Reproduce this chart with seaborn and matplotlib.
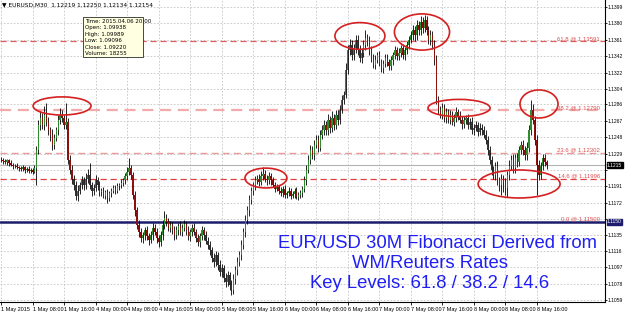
import numpy as np
import pandas as pd
import seaborn as sns
import matplotlib
matplotlib.use("Agg")
import matplotlib.pyplot as plt
from matplotlib.patches import Ellipse, Rectangle
import matplotlib.transforms as mtransforms

# ---------------- data ----------------
first_open = 1.1221
close = [
    1.1222, 1.1220, 1.1219, 1.1221, 1.1218, 1.1216, 1.1214, 1.1215, 1.1213, 1.1212, 1.1211, 1.1213, 1.1210, 1.1211, 1.1209, 1.1210, 1.1208, 1.1212,
    1.1233, 1.1262, 1.1270, 1.1262, 1.1274, 1.1266, 1.1256,
    1.1251, 1.1239, 1.1247, 1.1256, 1.1268, 1.1274, 1.1270, 1.1262,
    1.1266, 1.1222,
    1.1210, 1.1200, 1.1192, 1.1180, 1.1186, 1.1192,
    1.1198, 1.1192, 1.1200, 1.1204, 1.1192, 1.1186, 1.1189, 1.1198, 1.1192, 1.1184,
    1.1186, 1.1180, 1.1184, 1.1177, 1.1183, 1.1186, 1.1189, 1.1186, 1.1191, 1.1192, 1.1195, 1.1198,
    1.1203, 1.1208, 1.1212, 1.1204,
    1.1181, 1.1163, 1.1146, 1.1138, 1.1131, 1.1134,
    1.1140, 1.1133, 1.1129, 1.1134, 1.1143, 1.1138, 1.1131, 1.1126,
    1.1134, 1.1146, 1.1154, 1.1150, 1.1143, 1.1146, 1.1140, 1.1134,
    1.1140, 1.1145, 1.1138, 1.1143, 1.1147, 1.1140, 1.1133, 1.1138,
    1.1143, 1.1138, 1.1131, 1.1126, 1.1133, 1.1140, 1.1134, 1.1128, 1.1123,
    1.1117, 1.1108, 1.1103, 1.1111, 1.1100, 1.1092, 1.1096, 1.1085, 1.1080, 1.1088, 1.1077, 1.1071, 1.1083,
    1.1094, 1.1103, 1.1111, 1.1123, 1.1138, 1.1152, 1.1163, 1.1175, 1.1185,
    1.1192, 1.1198, 1.1200, 1.1196, 1.1203, 1.1205, 1.1200, 1.1198, 1.1203, 1.1198,
    1.1193, 1.1188, 1.1190, 1.1186, 1.1183, 1.1188, 1.1181, 1.1183, 1.1186, 1.1180, 1.1182, 1.1186, 1.1179, 1.1181, 1.1183, 1.1188,
    1.1198, 1.1210, 1.1222, 1.1233, 1.1227, 1.1239, 1.1245, 1.1236, 1.1251, 1.1256,
    1.1262, 1.1256, 1.1268, 1.1259, 1.1270, 1.1262, 1.1274, 1.1268,
    1.1280, 1.1291, 1.1297, 1.1326, 1.1349, 1.1355,
    1.1343, 1.1351, 1.1361, 1.1349, 1.1340, 1.1346, 1.1355, 1.1363, 1.1359, 1.1349,
    1.1340, 1.1332, 1.1338, 1.1343, 1.1335, 1.1328, 1.1333, 1.1340, 1.1335, 1.1330,
    1.1337, 1.1343, 1.1349, 1.1342, 1.1346, 1.1351, 1.1343, 1.1349, 1.1355, 1.1361, 1.1366,
    1.1372, 1.1366, 1.1378, 1.1372, 1.1382, 1.1375, 1.1384, 1.1372,
    1.1361, 1.1366, 1.1355, 1.1338, 1.1291,
    1.1280, 1.1274, 1.1282, 1.1270, 1.1277, 1.1268, 1.1274, 1.1266, 1.1270, 1.1277, 1.1273, 1.1268, 1.1263, 1.1268,
    1.1270, 1.1262, 1.1266, 1.1256, 1.1259, 1.1262, 1.1254, 1.1259, 1.1256, 1.1251,
    1.1245, 1.1233, 1.1222, 1.1210, 1.1204, 1.1215, 1.1198, 1.1192, 1.1200, 1.1196, 1.1189,
    1.1204, 1.1215, 1.1222, 1.1212, 1.1224, 1.1219, 1.1233,
    1.1239, 1.1233, 1.1227, 1.1236,
    1.1256, 1.1280, 1.1268,
    1.1245, 1.1216, 1.1204,
    1.1215, 1.1224, 1.1219, 1.12154,
]
# wick lengths beyond the body, in pips
wick_up = [
    3, 2, 3, 2, 2, 3, 2, 2, 3, 2, 2, 3, 2, 2, 3, 2, 2, 4,
    5, 6, 8, 6, 10, 14, 5,
    4, 6, 5, 4, 6, 8, 5, 4,
    22, 4,
    5, 6, 4, 5, 6, 4,
    5, 4, 6, 7, 14, 4, 5, 6, 4, 5,
    3, 4, 3, 4, 3, 3, 4, 3, 4, 3, 4, 3,
    4, 5, 12, 4,
    4, 5, 4, 6, 5, 4,
    4, 5, 4, 5, 6, 4, 5, 4,
    5, 6, 8, 5, 4, 5, 4, 5,
    5, 4, 6, 4, 5, 4, 5, 4,
    4, 5, 4, 5, 4, 5, 4, 5, 4,
    5, 4, 6, 5, 4, 6, 5, 4, 6, 5, 4, 5, 6,
    5, 6, 5, 6, 5, 6, 5, 6, 5,
    4, 5, 4, 5, 6, 8, 5, 4, 5, 4,
    4, 3, 4, 3, 4, 3, 4, 3, 4, 3, 4, 3, 4, 3, 4, 3,
    5, 6, 5, 6, 5, 6, 5, 6, 5, 6,
    6, 5, 7, 5, 8, 5, 6, 5,
    5, 6, 5, 8, 6, 7,
    6, 5, 6, 5, 6, 5, 6, 9, 5, 6,
    5, 4, 5, 4, 5, 4, 5, 4, 5, 4,
    5, 4, 5, 4, 5, 4, 5, 4, 5, 4, 5,
    6, 5, 6, 5, 6, 5, 6, 5,
    5, 6, 5, 6, 5,
    5, 4, 6, 4, 5, 4, 5, 4, 5, 6, 4, 5, 4, 5,
    4, 5, 4, 5, 4, 5, 4, 5, 4, 5,
    5, 4, 5, 4, 5, 4, 5, 4, 5, 4, 5,
    5, 6, 5, 6, 5, 6, 5,
    5, 6, 5, 6,
    6, 11, 6,
    5, 6, 5,
    4, 5, 4, 3,
]
wick_dn = [
    2, 3, 2, 3, 3, 2, 3, 2, 2, 3, 2, 2, 3, 2, 2, 3, 3, 2,
    20, 5, 6, 5, 6, 5, 6,
    8, 6, 5, 4, 6, 5, 4, 5,
    4, 5,
    5, 6, 5, 5, 6, 4,
    4, 5, 4, 5, 4, 6, 5, 4, 5, 4,
    4, 3, 4, 5, 3, 4, 3, 4, 3, 4, 3, 4,
    4, 5, 4, 5,
    5, 6, 5, 6, 5, 6,
    5, 4, 6, 4, 5, 4, 6, 5,
    4, 5, 4, 5, 4, 5, 4, 5,
    4, 5, 4, 5, 4, 5, 4, 5,
    5, 4, 5, 4, 5, 4, 5, 4, 5,
    6, 5, 6, 5, 6, 5, 6, 5, 6, 5, 6, 6, 5,
    5, 6, 5, 6, 5, 6, 5, 6, 5,
    4, 5, 4, 5, 4, 5, 4, 5, 4, 5,
    3, 4, 3, 4, 3, 4, 3, 4, 3, 4, 3, 4, 3, 4, 3, 4,
    4, 5, 4, 5, 4, 5, 4, 5, 4, 5,
    5, 6, 5, 6, 5, 6, 5, 6,
    5, 4, 5, 4, 5, 6,
    5, 6, 5, 6, 5, 6, 5, 6, 5, 6,
    5, 4, 5, 4, 5, 4, 5, 4, 5, 4,
    4, 5, 4, 5, 4, 5, 4, 5, 4, 5, 4,
    5, 6, 5, 6, 5, 6, 5, 6,
    5, 6, 5, 6, 5,
    5, 4, 5, 4, 5, 4, 5, 4, 5, 4, 5, 4, 5, 4,
    5, 4, 5, 4, 5, 4, 5, 4, 5, 4,
    5, 6, 5, 6, 5, 6, 5, 6, 11, 12, 8,
    10, 6, 5, 6, 5, 6, 5,
    5, 6, 5, 6,
    5, 6, 5,
    6, 35, 6,
    4, 5, 4, 4,
]

x_labels = ["1 May 2015", "1 May 08:00", "1 May 16:00", "4 May 00:00", "4 May 08:00",
            "4 May 16:00", "5 May 00:00", "5 May 08:00", "5 May 16:00", "6 May 00:00",
            "6 May 08:00", "6 May 16:00", "7 May 00:00", "7 May 08:00", "7 May 16:00",
            "8 May 00:00", "8 May 08:00", "8 May 16:00"]
bars_per_label = 16
y_ticks = [1.1059, 1.1078, 1.1097, 1.1116, 1.1135, 1.1153, 1.1172, 1.1191, 1.1210, 1.1229,
           1.1248, 1.1267, 1.1286, 1.1304, 1.1322, 1.1342, 1.1361, 1.1380, 1.1399]
# tick labels hidden behind the price boxes in the reference
y_hidden = [1.1153, 1.1210]

fib_levels = ["61.8", "38.2", "23.6", "14.6", "0.0"]
fib_prices = [1.13591, 1.12790, 1.12302, 1.11996, 1.11500]
current_price = 1.12154

header = "\u25bc EURUSD,M30  1.12219 1.12250 1.12134 1.12154"
info_lines = ["Time: 2015.04.06 20:00", "Open: 1.09938", "High: 1.09989",
              "Low: 1.09096", "Close: 1.09220", "Volume: 18255"]
title_lines = ["EUR/USD 30M Fibonacci Derived from", "WM/Reuters Rates",
               "Key Levels: 61.8 / 38.2 / 14.6"]

# ---------------- build frame ----------------
n = len(close)
df = pd.DataFrame({"i": np.arange(n), "close": close})
df["open"] = [first_open] + close[:-1]
body_top = np.maximum(df["open"], df["close"])
body_bot = np.minimum(df["open"], df["close"])
df["high"] = body_top + np.array(wick_up) * 1e-4
df["low"] = body_bot - np.array(wick_dn) * 1e-4
df["bottom"] = body_bot
df["height"] = np.maximum(body_top - body_bot, 0.00004)
df["dir"] = np.where(df["close"] >= df["open"], "up", "down")

sns.set_theme(style="white")
plt.rcParams["font.family"] = ["DejaVu Sans"]
NARROW = ["Liberation Sans Narrow", "Liberation Sans", "DejaVu Sans"]
AXFS = 3.6

W, H = 625, 314
RIGHT_PX = 605
fig = plt.figure(figsize=(W / 100, H / 100), dpi=100)
fig.patch.set_facecolor("white")
ax = fig.add_axes([0, (H - 302) / H, RIGHT_PX / W, 302 / H])
ax.set_facecolor("white")

# grid
ax.set_xticks(np.arange(len(x_labels)) * bars_per_label)
ax.set_yticks(y_ticks)
ax.grid(True, color="#c4c4c4", linestyle=(0, (2, 2)), linewidth=0.6)
ax.set_axisbelow(True)

# fibonacci lines
fib_styles = {
    "61.8": dict(color="#e06060", lw=0.9),
    "38.2": dict(color="#f2aaaa", lw=1.6),
    "23.6": dict(color="#eb9a9a", lw=1.0),
    "14.6": dict(color="#e04040", lw=0.9),
}
for lvl, pr in zip(fib_levels, fib_prices):
    if lvl == "0.0":
        ax.axhline(pr, color="#1c1c6a", lw=1.8, zorder=2)
    else:
        st = fib_styles[lvl]
        ax.axhline(pr, color=st["color"], lw=st["lw"], linestyle=(0, (5, 3)), zorder=2)
    ax.text(304, pr + 0.00003, f"{lvl} @ {pr:.5f}", ha="right", va="bottom",
            fontsize=4.3, color="#e05050", zorder=6, family=NARROW)

# current price line
ax.axhline(current_price, color="#b4b4b4", lw=0.8, zorder=2)

# candles
ax.vlines(df["i"], df["low"], df["high"], color="black", lw=0.6, zorder=3)
colors = {"up": "#2e8b2e", "down": "#8b1010"}
for d, sub in df.groupby("dir"):
    ax.bar(sub["i"], sub["height"], bottom=sub["bottom"], width=0.62,
           color=colors[d], edgecolor="none", zorder=4)

# ellipses (annotations)
ell = [(31, 1.12842, 29.4, 0.0021), (134.5, 1.12006, 21.3, 0.0023),
       (182.2, 1.13654, 25.4, 0.0031), (213.7, 1.13700, 28.0, 0.0042),
       (232.5, 1.12818, 31.5, 0.0020), (273.1, 1.12865, 19.3, 0.00325),
       (263.0, 1.11937, 41.6, 0.00325)]
for cx, cy, w, h in ell:
    ax.add_patch(Ellipse((cx, cy), w, h, fill=False, edgecolor="#d42020", lw=1.2, zorder=5))

ax.set_xlim(-0.5, (RIGHT_PX - 1) / 1.97)
ax.set_ylim(1.10568, 1.14071)

# axes styling
for s in ["left", "top"]:
    ax.spines[s].set_visible(False)
for s in ["right", "bottom"]:
    ax.spines[s].set_color("black")
    ax.spines[s].set_linewidth(0.8)
ax.yaxis.tick_right()
ax.set_yticklabels(["" if v in y_hidden else f"{v:.4f}" for v in y_ticks], family=NARROW)
ax.set_xticklabels(x_labels, ha="left", family=NARROW)
ax.tick_params(axis="y", which="major", right=True, length=1.2, width=0.6, pad=0.5,
               labelsize=AXFS, colors="black")
ax.tick_params(axis="x", which="major", bottom=True, length=2, width=0.6, pad=1.5,
               labelsize=4.0, colors="black")
ax.set_xlabel("")
ax.set_ylabel("")

# price boxes on the right axis
trans = mtransforms.blended_transform_factory(ax.transAxes, ax.transData)
ax.text(1.0035, current_price, f"{current_price:.4f}", transform=trans, fontsize=AXFS,
        color="white", va="center", ha="left", clip_on=False, zorder=7, family=NARROW,
        bbox=dict(boxstyle="square,pad=0.1", fc="black", ec="black"))
ax.text(1.0035, fib_prices[-1], f"{fib_prices[-1]:.4f}", transform=trans, fontsize=AXFS,
        color="white", va="center", ha="left", clip_on=False, zorder=7, family=NARROW,
        bbox=dict(boxstyle="square,pad=0.1", fc="#1c1c6a", ec="#1c1c6a"))

# header
fig.text(2 / W, 1 - 4.5 / H, header, fontsize=4.2, va="center", ha="left", color="black")

# info box
fig.patches.append(Rectangle((83 / W, 1 - 57 / H), 60 / W, 40 / H, transform=fig.transFigure,
                             facecolor="#ffffe1", edgecolor="black", lw=0.5, zorder=10))
for k, line in enumerate(info_lines):
    fig.text(85 / W, 1 - (21.5 + 6.4 * k) / H, line, fontsize=4.0, va="center", ha="left",
             color="black", zorder=11)

# big blue annotation
title_pos = [(438, 243), (430, 263), (430, 283)]
for (tx, ty), line in zip(title_pos, title_lines):
    fig.text(tx / W, 1 - ty / H, line, fontsize=13.3, color="#1f1ff5", ha="center",
             va="center", family=["Liberation Sans", "DejaVu Sans"], zorder=12)

fig.savefig("out.png", dpi=100, facecolor="white")
